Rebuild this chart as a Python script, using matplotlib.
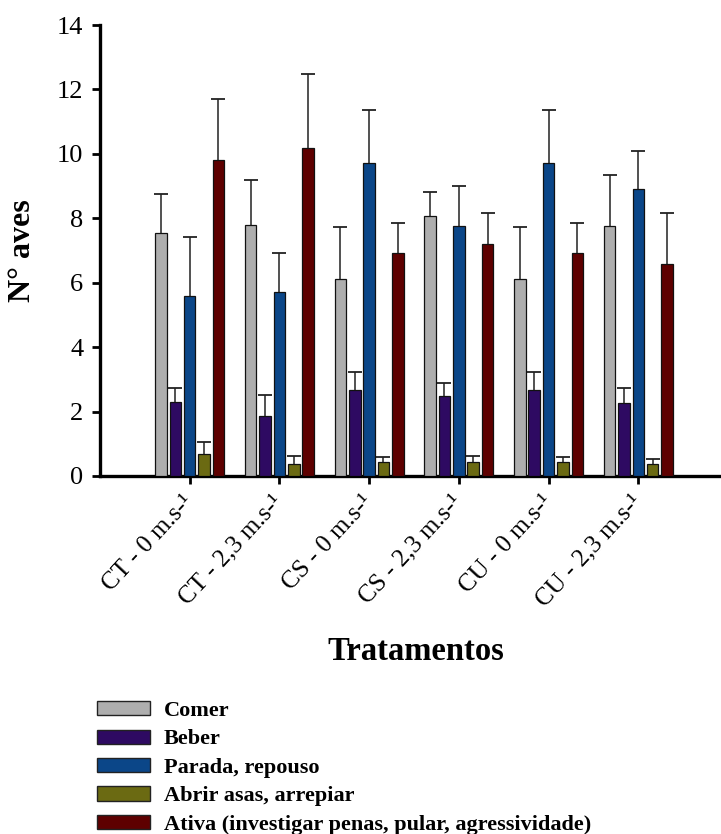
import matplotlib
matplotlib.use("Agg")
import matplotlib.pyplot as plt
import matplotlib.transforms as mtransforms
import numpy as np
from matplotlib.patches import Patch

plt.rcParams['font.family'] = ['Liberation Serif', 'DejaVu Serif']

tratamentos = ["CT - 0 m.s-\u00b9", "CT - 2,3 m.s-\u00b9", "CS - 0 m.s-\u00b9",
               "CS - 2,3 m.s-\u00b9", "CU - 0 m.s-\u00b9", "CU - 2,3 m.s-\u00b9"]
comportamentos = ["Comer", "Beber", "Parada, repouso", "Abrir asas, arrepiar",
                  "Ativa (investigar penas, pular, agressividade)"]

comer = [7.53, 7.79, 6.11, 8.07, 6.11, 7.77]
comer_ep = [1.23, 1.40, 1.63, 0.76, 1.63, 1.57]
beber = [2.31, 1.87, 2.67, 2.48, 2.67, 2.28]
beber_ep = [0.41, 0.65, 0.57, 0.40, 0.57, 0.46]
parada = [5.58, 5.70, 9.73, 7.77, 9.73, 8.91]
parada_ep = [1.85, 1.21, 1.63, 1.23, 1.63, 1.17]
abrir = [0.68, 0.37, 0.42, 0.44, 0.42, 0.37]
abrir_ep = [0.39, 0.25, 0.16, 0.18, 0.16, 0.17]
ativa = [9.81, 10.17, 6.93, 7.21, 6.93, 6.57]
ativa_ep = [1.88, 2.31, 0.93, 0.95, 0.93, 1.59]

cores = ["#AEAEAE", "#2E0A62", "#0B4688", "#6B6A12", "#5E0000"]

series = [comer, beber, parada, abrir, ativa]
erros = [comer_ep, beber_ep, parada_ep, abrir_ep, ativa_ep]

fig = plt.figure(figsize=(7.21, 8.34), dpi=100)
ax = fig.add_axes([100/721, 1-476/834, 619/721, (476-25)/834])

x = np.arange(len(tratamentos))
step = 0.16
width = 0.128
for i, (vals, err, c) in enumerate(zip(series, erros, cores)):
    pos = x + (i - 2) * step
    ax.bar(pos, vals, width, color=c, edgecolor="#111111", linewidth=0.9, zorder=3)
    _, caps, _ = ax.errorbar(pos, vals, yerr=[np.zeros(len(vals)), err], fmt='none',
                             ecolor="#222222", elinewidth=1.1, capsize=5, capthick=1.3,
                             zorder=2)
    for cl in caps:
        if np.allclose(cl.get_ydata(), vals):
            cl.set_visible(False)

ax.set_xlim(-1.0, 5.9)
ax.set_ylim(0, 14)
ax.set_yticks(np.arange(0, 15, 2))
ax.set_xticks(x)
ax.set_xticklabels(tratamentos, rotation=47, ha='right', va='center',
                   rotation_mode='anchor', fontsize=18)
offset = mtransforms.ScaledTranslation(5/100, 0, fig.dpi_scale_trans)
for lab in ax.get_xticklabels():
    lab.set_transform(lab.get_transform() + offset)
ax.tick_params(axis='y', labelsize=19, width=2, length=6, direction='out', pad=6)
ax.tick_params(axis='x', width=2, length=6, direction='out', pad=10)
for s in ['top', 'right']:
    ax.spines[s].set_visible(False)
for s in ['left', 'bottom']:
    ax.spines[s].set_linewidth(2.4)

fig.text(23/721, 1-251/834, "N\u00b0 aves", rotation=90, ha='center', va='center',
         fontsize=23, fontweight='bold')
fig.text(416/721, 1-651/834, "Tratamentos", ha='center', va='center',
         fontsize=23.5, fontweight='bold')

handles = [Patch(facecolor=c, edgecolor="#222222", linewidth=1.0) for c in cores]
fig.legend(handles, comportamentos, loc='upper left', bbox_to_anchor=(97/721, 1-701/834),
           frameon=False, borderpad=0, borderaxespad=0, handlelength=2.4,
           handleheight=0.6, handletextpad=0.6, labelspacing=0.38,
           prop={'size': 16, 'weight': 'bold'})

fig.savefig("out.png", dpi=100)
